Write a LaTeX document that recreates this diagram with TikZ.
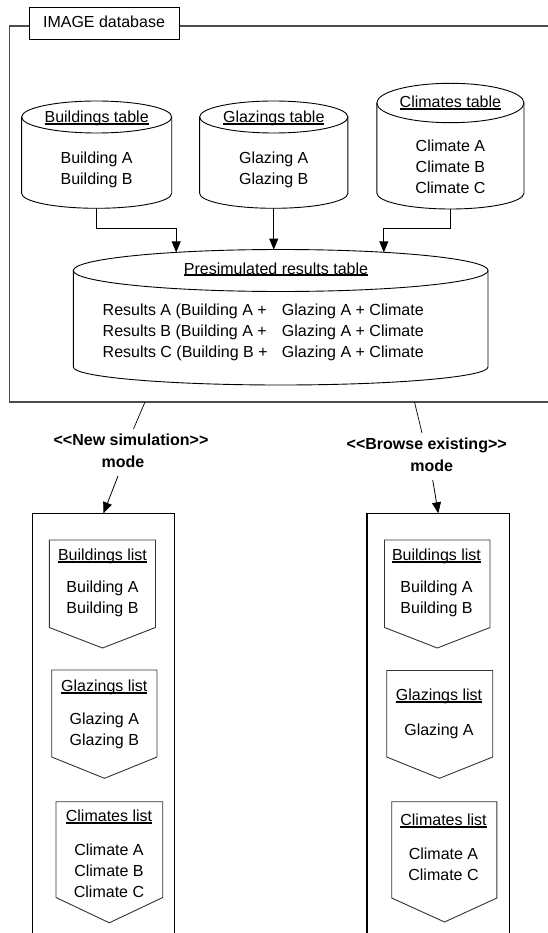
\documentclass[tikz,border=0pt]{standalone}
\usepackage{fontspec}
\setmainfont{Liberation Sans}
\usetikzlibrary{arrows.meta}
\newcommand\ttl[1]{\setbox0\hbox{#1}\rlap{\vrule width\wd0 height -0.4pt depth 2.3pt}\box0}
\newcommand\lt{<\kern0pt<}
\newcommand\gt{>\kern0pt>}
\tikzset{
  txt/.style={font=\fontsize{16}{21}\selectfont, align=center, inner sep=0pt,
    execute at begin node=\strut, execute at end node=\strut},
  lefttxt/.style={txt, align=left, anchor=west},
  boldtxt/.style={txt, font=\fontsize{16}{22}\selectfont\bfseries},
  shp/.style={draw=black, line width=0.9pt},
  lst/.style={draw=black!80, line width=0.9pt},
  frm/.style={draw=black!70, line width=1.4pt},
  box/.style={draw=black, line width=1.1pt},
  arr/.style={-{Triangle[width=9pt,length=11pt]}, line width=0.8pt},
  thin/.style={line width=0.7pt}
}
\begin{document}
\begin{tikzpicture}[x=1pt,y=-1pt]
\useasboundingbox (0,0) rectangle (547,933);
% outer frame
\draw[frm] (29,26) -- (9.5,26) -- (9.5,402) -- (550,402);
\draw[frm] (179,26) -- (550,26);
\node[txt, draw=black, line width=0.9pt, minimum width=150pt, minimum height=32pt] (lbl) at (104,23.3) {IMAGE database};

% cylinders
% Buildings
\draw[shp] (96.65,117) ellipse [x radius=75.05, y radius=16];
\draw[shp] (21.6,117) -- (21.6,193.3) arc[start angle=180, end angle=0, x radius=75.05, y radius=15] -- (171.7,117);
\node[txt] (bt) at (96.65,118.3) {\ttl{Buildings table}};
\node[txt] (bi) at (96.65,171.2) {Building A\\Building B};
\coordinate (bb) at (96.65,208.3);
% Glazings
\draw[shp] (273.75,117) ellipse [x radius=74.15, y radius=16];
\draw[shp] (199.6,117) -- (199.6,193.3) arc[start angle=180, end angle=0, x radius=74.15, y radius=15] -- (347.9,117);
\node[txt] (gt) at (273.75,118.3) {\ttl{Glazings table}};
\node[txt] (gi) at (273.75,171.2) {Glazing A\\Glazing B};
\coordinate (gb) at (273.75,208.3);
% Climates
\draw[shp] (450.4,103) ellipse [x radius=73.6, y radius=19.7];
\draw[shp] (376.8,103) -- (376.8,193) arc[start angle=180, end angle=0, x radius=73.6, y radius=16] -- (524,103);
\node[txt] (ct) at (450.4,103.5) {\ttl{Climates table}};
\node[txt] (ci) at (450.4,169.5) {Climate A\\Climate B\\Climate C};
\coordinate (cb) at (450.4,209);
% Presimulated
\draw[shp] (280.65,270.5) ellipse [x radius=207.35, y radius=21];
\draw[shp] (73.3,270.5) -- (73.3,367) arc[start angle=180, end angle=0, x radius=207.35, y radius=18] -- (488,270.5);
\node[txt] (pt) at (276,269.8) {\ttl{Presimulated results table}};
\node[lefttxt] (pl) at (102.5,333.7) {Results A (Building A +\\Results B (Building A +\\Results C (Building B +};
\node[lefttxt] (pr) at (281.7,333.7) {Glazing A + Climate\\Glazing A + Climate\\Glazing A + Climate};
\coordinate (pa) at (176.2,252.4);
\coordinate (pb) at (273.75,249.6);
\coordinate (pc) at (383.8,252.4);

% connectors to presimulated table
\draw[arr] (bb) -- ++(0,20) -| (pa);
\draw[arr] (gb) -- (pb);
\draw[arr] (cb) -- ++(0,19.3) -| (pc);

% modes
\node[boldtxt] (ml) at (131,454.3) {\lt New simulation\gt\\mode\kern16pt};
\node[boldtxt] (mr) at (426.7,457.5) {\lt Browse existing\gt\\\kern10pt mode};
\coordinate (ml0) at (145,402);
\coordinate (ml1) at (133.5,429);
\coordinate (ml2) at (118,476);
\coordinate (ml3) at (103.5,513.3);
\coordinate (mr0) at (414.5,402);
\coordinate (mr1) at (422,433);
\coordinate (mr2) at (432.7,480);
\coordinate (mr3) at (438.3,513.3);
\draw[thin] (ml0) -- (ml1);
\draw[arr] (ml2) -- (ml3);
\draw[thin] (mr0) -- (mr1);
\draw[arr] (mr2) -- (mr3);

% containers
\draw[box] (32.3,945) -- (32.3,513.3) -- (174.5,513.3) -- (174.5,945);
\draw[box] (367,945) -- (367,513.3) -- (509.7,513.3) -- (509.7,945);

% left lists
\draw[lst] (49.3,540) -- (155.5,540) -- (155.5,627.5) -- (102.5,648) -- (49.3,627.5) -- cycle;
\node[txt] (lbt) at (102.5,556.5) {\ttl{Buildings list}};
\node[txt] (lbi) at (102.5,600.8) {Building A\\Building B};
\draw[lst] (51.7,670) -- (157,670) -- (157,757) -- (104.5,778.3) -- (51.7,757) -- cycle;
\node[txt] (lgt) at (104.3,687) {\ttl{Glazings list}};
\node[txt] (lgi) at (104.3,732) {Glazing A\\Glazing B};
\draw[lst] (56,801.7) -- (162.7,801.7) -- (162.7,897.5) -- (109.3,922.8) -- (56,897.5) -- cycle;
\node[txt] (lct) at (109,817.5) {\ttl{Climates list}};
\node[txt] (lci) at (109,873.5) {Climate A\\Climate B\\Climate C};

% right lists
\draw[lst] (384.5,540) -- (490,540) -- (490,627.5) -- (437.3,648) -- (384.5,627.5) -- cycle;
\node[txt] (rbt) at (436.5,556.5) {\ttl{Buildings list}};
\node[txt] (rbi) at (436.5,600.8) {Building A\\Building B};
\draw[lst] (386.7,670.5) -- (492.7,670.5) -- (492.7,757) -- (439.5,778.3) -- (386.7,757) -- cycle;
\node[txt] (rgt) at (439,696.5) {\ttl{Glazings list}};
\node[txt] (rgi) at (439,731.5) {Glazing A};
\draw[lst] (391.7,801.7) -- (496.9,801.7) -- (496.9,898) -- (444.5,922) -- (391.7,898) -- cycle;
\node[txt] (rct) at (443.5,821.5) {\ttl{Climates list}};
\node[txt] (rci) at (443.5,867) {Climate A\\Climate C};
\end{tikzpicture}
\end{document}
